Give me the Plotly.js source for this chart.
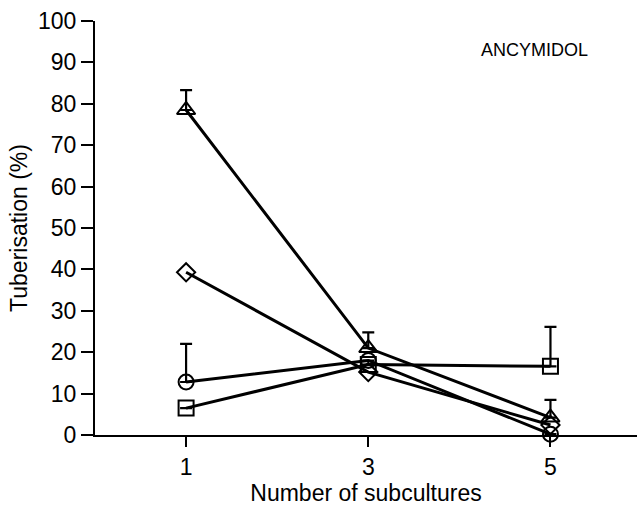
<!DOCTYPE html>
<html>
<head>
<meta charset="utf-8">
<script src="https://cdn.plot.ly/plotly-3.0.1.min.js"></script>
<style>html,body{margin:0;padding:0;background:#fff;}#chart{width:637px;height:506px;}</style>
</head>
<body>
<div id="chart"></div>
<script>
const subcultures = [1, 3, 5];
const triangleVals = [78.5, 21, 4.2];
const triangleErr = [4.8, 3.8, 4.3];
const diamondVals = [39.3, 15.2, 2.4];
const circleVals = [12.8, 18, 0.2];
const circleErr = [9.2, 0, 0];
const squareVals = [6.5, 17, 16.6];
const squareErr = [0, 0, 9.5];
const xTicks = [1, 3, 5];
const yTicks = [0, 10, 20, 30, 40, 50, 60, 70, 80, 90, 100];

function series(y, err, symbol, size) {
  const t = {
    x: subcultures, y: y, type: 'scatter', mode: 'lines+markers',
    line: {color: '#000', width: 3},
    marker: {symbol: symbol, size: size, color: '#000', line: {color: '#000', width: 2}},
    cliponaxis: false,
    hoverinfo: 'skip'
  };
  if (err) {
    t.error_y = {type: 'data', symmetric: false, array: err, arrayminus: err.map(() => 0),
                 color: '#000', thickness: 2.2, width: 6};
  }
  return t;
}

const data = [
  series(triangleVals, triangleErr, 'triangle-up-open', 16),
  series(diamondVals, null, 'diamond-open', 14),
  series(circleVals, circleErr, 'circle-open', 15),
  series(squareVals, squareErr, 'square-open', 15)
];

const fam = 'Liberation Sans, Arial, Helvetica, sans-serif';
const font = {family: fam, color: '#000'};

const layout = {
  width: 637, height: 506,
  margin: {l: 95, r: 0, t: 21, b: 71},
  paper_bgcolor: '#fff', plot_bgcolor: '#fff',
  showlegend: false,
  font: font,
  xaxis: {
    range: [0.0, 5.95], tickvals: xTicks, ticktext: xTicks.map(String),
    showgrid: false, zeroline: false, showline: true, linecolor: '#000', linewidth: 2,
    ticks: 'outside', ticklen: 10, tickwidth: 2, tickcolor: '#000',
    tickfont: {size: 23, family: fam, color: '#000'},
    title: {text: 'Number of subcultures', font: {size: 23, family: fam, color: '#000'}, standoff: 4}
  },
  yaxis: {
    range: [0, 100], tickvals: yTicks, ticktext: yTicks.map(String),
    showgrid: false, zeroline: false, showline: true, linecolor: '#000', linewidth: 2,
    ticks: 'outside', ticklen: 12, tickwidth: 2, tickcolor: '#000',
    tickfont: {size: 23, family: fam, color: '#000'},
    title: {text: 'Tuberisation (%)', font: {size: 23, family: fam, color: '#000'}, standoff: 4}
  },
  annotations: [{
    text: 'ANCYMIDOL', xref: 'paper', yref: 'paper', x: 0.81, y: 0.93,
    xanchor: 'center', yanchor: 'middle', showarrow: false,
    font: {size: 18, family: fam, color: '#000'}
  }]
};

Plotly.newPlot('chart', data, layout, {staticPlot: true, displayModeBar: false});
</script>
</body>
</html>
